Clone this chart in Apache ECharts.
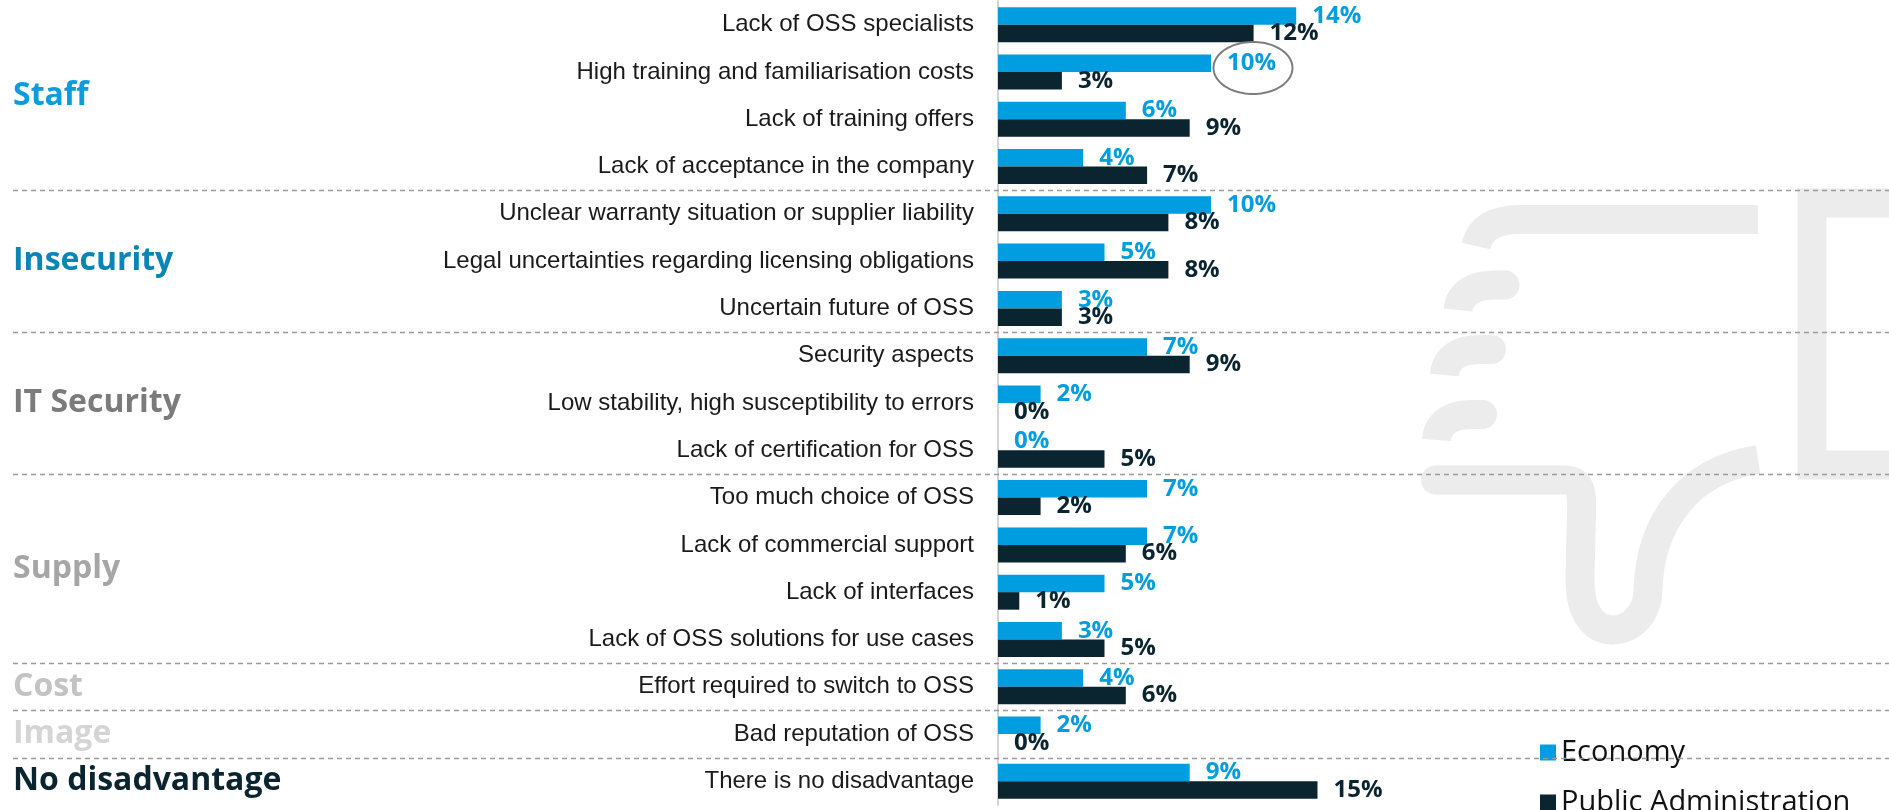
<!DOCTYPE html>
<html>
<head>
<meta charset="utf-8">
<script src="https://cdn.jsdelivr.net/npm/echarts@6/dist/echarts.min.js"></script>
<style>
  html, body { margin: 0; padding: 0; background: #ffffff; }
  #chart { width: 1889px; height: 810px; }
</style>
</head>
<body>
<div id="chart"></div>
<script>
// Disadvantages of open source software, share of respondents (%)
const categories = [
  'Lack of OSS specialists',
  'High training and familiarisation costs',
  'Lack of training offers',
  'Lack of acceptance in the company',
  'Unclear warranty situation or supplier liability',
  'Legal uncertainties regarding licensing obligations',
  'Uncertain future of OSS',
  'Security aspects',
  'Low stability, high susceptibility to errors',
  'Lack of certification for OSS',
  'Too much choice of OSS',
  'Lack of commercial support',
  'Lack of interfaces',
  'Lack of OSS solutions for use cases',
  'Effort required to switch to OSS',
  'Bad reputation of OSS',
  'There is no disadvantage'
];
const economy     = [14, 10, 6, 4, 10, 5, 3, 7, 2, 0, 7, 7, 5, 3, 4, 2, 9];
const publicAdmin = [12, 3, 9, 7, 8, 8, 3, 9, 0, 5, 2, 6, 1, 5, 6, 0, 15];
const seriesNames = ['Economy', 'Public Administration'];

// Category groups, in order, with the number of rows each one covers
const groupNames = ['Staff', 'Insecurity', 'IT Security', 'Supply', 'Cost', 'Image', 'No disadvantage'];
const groupSizes = [4, 3, 3, 4, 1, 1, 1];

// Row whose Economy value is circled
const circledRow = 1;

// ---- styling ----
const ECON_COLOR = '#009ee0';
const PA_COLOR = '#0b2530';
const groupColors = ['#0a9cdc', '#0b84b6', '#7b7b7b', '#a6a6a6', '#c3c3c3', '#d5d5d5', '#0b2530'];
const WATERMARK = '#ececec';

const chart = echarts.init(document.getElementById('chart'), null, { renderer: 'canvas' });

const valueLabel = (color) => ({
  show: true,
  position: 'right',
  distance: 16,
  formatter: '{c}%',
  color: color,
  fontFamily: 'Open Sans',
  fontWeight: 'bold',
  fontSize: 24
});

chart.setOption({
  animation: false,
  backgroundColor: '#ffffff',
  grid: { left: 998, top: 1, width: 426, height: 804, outerBoundsMode: 'none' },
  xAxis: { type: 'value', min: 0, max: 20, show: false, splitLine: { show: false } },
  yAxis: {
    type: 'category',
    data: categories,
    inverse: true,
    axisLine: { show: true, lineStyle: { color: '#d4d4d4', width: 2 } },
    axisTick: { show: false },
    splitLine: { show: false },
    axisLabel: {
      margin: 24,
      fontFamily: 'Liberation Sans',
      fontSize: 24,
      color: '#1a1a1a'
    }
  },
  legend: {
    orient: 'vertical',
    left: 1535,
    top: 733,
    height: 140,
    itemWidth: 16,
    itemHeight: 16,
    itemGap: 21,
    icon: 'rect',
    data: seriesNames,
    textStyle: { fontFamily: 'Open Sans', fontSize: 29, color: '#111111' }
  },
  series: [
    {
      name: seriesNames[0],
      type: 'bar',
      data: economy,
      barWidth: 17.5,
      barGap: '0%',
      itemStyle: { color: ECON_COLOR },
      label: valueLabel(ECON_COLOR),
      z: 3
    },
    {
      name: seriesNames[1],
      type: 'bar',
      data: publicAdmin,
      barWidth: 17.5,
      barGap: '0%',
      itemStyle: { color: PA_COLOR },
      label: valueLabel(PA_COLOR),
      z: 3
    }
  ]
});

// ---- overlay: watermark icon, group separators, group titles, highlight ring ----
const rowY = (i) => chart.convertToPixel({ gridIndex: 0 }, [0, i])[1];
const graphics = [];

// Thumbs-down watermark, drawn as thick light strokes
const wmStyle = () => ({ fill: null, stroke: WATERMARK, lineWidth: 29, lineCap: 'butt', lineJoin: 'miter' });
const wmCurve = (p) => graphics.push({
  type: 'bezierCurve', z: 0, silent: true,
  shape: { x1: p[0], y1: p[1], cpx1: p[2], cpy1: p[3], cpx2: p[4], cpy2: p[5], x2: p[6], y2: p[7] },
  style: wmStyle()
});
const wmLine = (x1, y1, x2, y2) => graphics.push({
  type: 'line', z: 0, silent: true, shape: { x1: x1, y1: y1, x2: x2, y2: y2 }, style: wmStyle()
});
// fingers
wmCurve([1476, 246, 1480, 228, 1495, 219.5, 1520, 219.5]);  wmLine(1519, 219.5, 1758, 219.5);
wmCurve([1458, 310, 1460, 292, 1475, 285, 1495, 285]);      wmLine(1494, 285, 1505, 285);
wmCurve([1444.5, 375, 1446, 357, 1460, 349.5, 1480, 349.5]); wmLine(1479, 349.5, 1491.5, 349.5);
wmCurve([1436.5, 440, 1438, 422, 1452, 414.5, 1472, 414.5]); wmLine(1471, 414.5, 1482.5, 414.5);
// palm and thumb
wmLine(1435.5, 480, 1566, 480);
wmCurve([1565, 480, 1585, 480, 1582, 500, 1581, 531]);
wmLine(1581, 529, 1580, 581);
wmCurve([1580, 580, 1580, 615, 1595, 630, 1613, 630]);
wmCurve([1612, 630, 1630, 630, 1648, 615, 1648, 589]);
wmCurve([1648, 590, 1650, 520, 1690, 470, 1758, 459.5]);
// rounded finger tips
[[1505, 285], [1491.5, 349.5], [1482.5, 414.5], [1435.5, 480]].forEach(([cx, cy]) => graphics.push({
  type: 'circle', z: 0, silent: true, shape: { cx: cx, cy: cy, r: 14.5 }, style: { fill: WATERMARK }
}));
// cuff
graphics.push({
  type: 'polyline', z: 0, silent: true,
  shape: { points: [[1905, 203], [1812, 203], [1812, 465], [1905, 465]] },
  style: wmStyle()
});

// Group titles and dashed separators
let start = 0;
groupNames.forEach((name, g) => {
  const end = start + groupSizes[g] - 1;
  const cy = (rowY(start) + rowY(end)) / 2;
  graphics.push({
    type: 'text', z: 20, silent: true,
    x: 13, y: cy,
    style: {
      text: name,
      fill: groupColors[g],
      font: 'bold 32px "Open Sans"',
      textAlign: 'left',
      textVerticalAlign: 'middle'
    }
  });
  if (g < groupNames.length - 1) {
    const yb = Math.round((rowY(end) + rowY(end + 1)) / 2) + 0.5;
    graphics.push({
      type: 'line', z: 20, silent: true,
      shape: { x1: 13, y1: yb, x2: 1889, y2: yb },
      style: { stroke: '#9a9a9a', lineWidth: 1.5, lineDash: [5, 4] }
    });
  }
  start = end + 1;
});

// Ring around the circled Economy value label
const ringAt = chart.convertToPixel({ gridIndex: 0 }, [economy[circledRow], circledRow]);
const ringPts = [];
for (let k = 0; k < 96; k++) {
  const t = (k / 96) * Math.PI * 2;
  ringPts.push([ringAt[0] + 42 + 39.5 * Math.cos(t), ringAt[1] - 4 + 26 * Math.sin(t)]);
}
graphics.push({
  type: 'polygon', z: 20, silent: true,
  shape: { points: ringPts },
  style: { fill: null, stroke: '#7d7d7d', lineWidth: 2 }
});

chart.setOption({ graphic: { elements: graphics } });
</script>
</body>
</html>
